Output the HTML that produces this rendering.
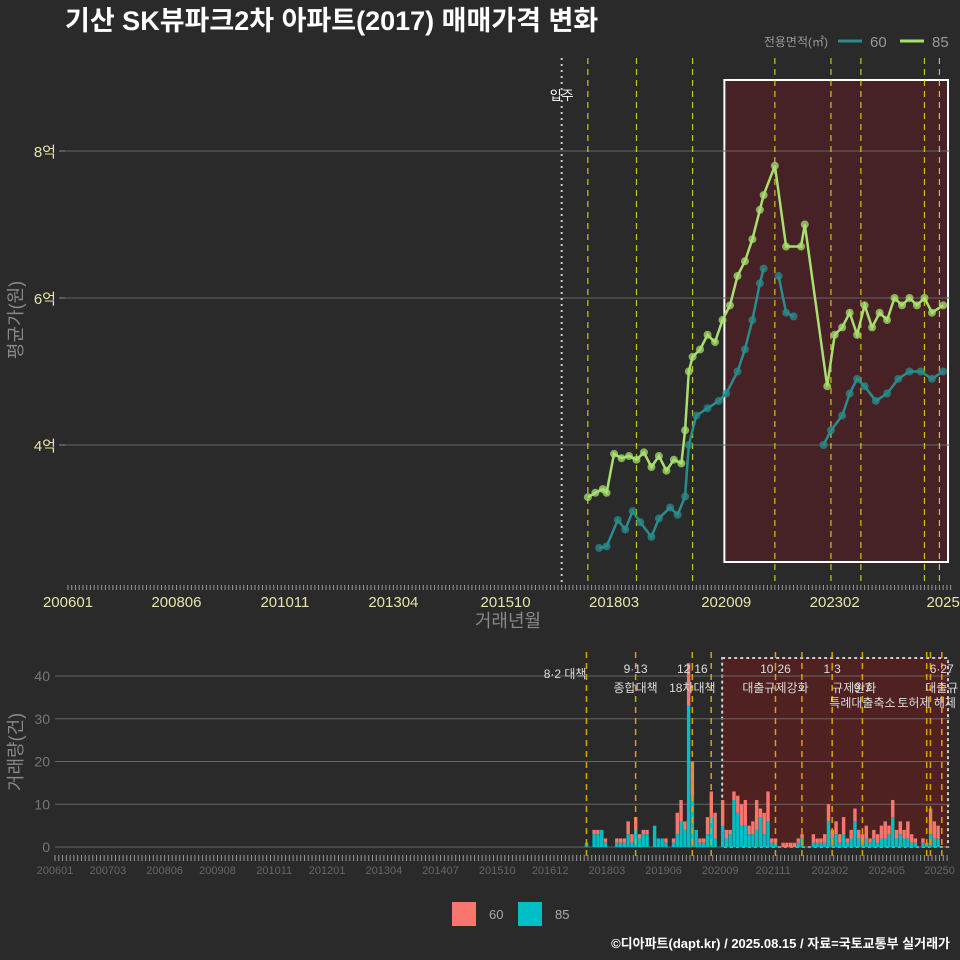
<!DOCTYPE html>
<html><head><meta charset="utf-8">
<style>
body{margin:0;background:#2a2a2b;}
svg{display:block;font-family:"Liberation Sans","Noto Sans CJK KR",sans-serif;}
</style></head>
<body>
<svg id="c" width="960" height="960" viewBox="0 0 960 960">
<rect x="0" y="0" width="960" height="960" fill="#2a2a2b"/>
<text x="65" y="30" fill="#ffffff" font-size="27" font-weight="bold">기산 SK뷰파크2차 아파트(2017) 매매가격 변화</text>
<g>
<text x="828" y="46" fill="#999" font-size="12" text-anchor="end">전용면적(㎡)</text>
<line x1="838" y1="41" x2="862" y2="41" stroke="#2a8c8c" stroke-width="3"/>
<text x="870" y="47" fill="#999" font-size="15">60</text>
<line x1="900" y1="41" x2="924" y2="41" stroke="#a8e070" stroke-width="3"/>
<text x="932" y="47" fill="#999" font-size="15">85</text>
</g>
<g id="topPanel"></g>
<g id="botPanel"></g>
<g>
<rect x="452" y="902" width="24" height="24" fill="#f8766d"/>
<text x="489" y="919" fill="#aaa" font-size="13">60</text>
<rect x="518" y="902" width="24" height="24" fill="#00bfc4"/>
<text x="555" y="919" fill="#aaa" font-size="13">85</text>
</g>
<text x="950" y="948" fill="#ffffff" font-size="13" font-weight="bold" text-anchor="end">©디아파트(dapt.kr) / 2025.08.15 / 자료=국토교통부 실거래가</text>
</svg>
<script>
// ---- data ----
const price85Months=["201708","201710","201712","201801","201803","201805","201807","201809","201811","201901","201903","201905","201907","201909","201910","201911","201912","202002","202004","202006","202008","202010","202012","202102","202104","202106","202107","202110","202201","202205","202206","202212","202302","202304","202306","202308","202310","202312","202402","202404","202406","202408","202410","202412","202502","202504","202507"];
const price85Values=[3.29,3.35,3.40,3.35,3.88,3.82,3.85,3.80,3.90,3.70,3.85,3.65,3.80,3.75,4.2,5.0,5.2,5.3,5.5,5.4,5.7,5.9,6.3,6.5,6.8,7.2,7.4,7.8,6.7,6.7,7.0,4.8,5.5,5.6,5.8,5.5,5.9,5.6,5.8,5.7,6.0,5.9,6.0,5.9,6.0,5.8,5.9];
const price60Months=["201711","201801","201804","201806","201808","201810","201901","201903","201906","201908","201910","201911","202001","202004","202007","202009","202012","202102","202104","202106","202107","202108","202111","202201","202203","202204","202211","202301","202304","202306","202308","202310","202401","202404","202407","202410","202501","202504","202507"];
const price60Values=[2.6,2.62,2.98,2.85,3.1,2.95,2.75,3.0,3.15,3.05,3.3,4.0,4.4,4.5,4.6,4.7,5.0,5.3,5.7,6.2,6.4,null,6.3,5.8,5.75,null,4.0,4.2,4.4,4.7,4.9,4.8,4.6,4.7,4.9,5.0,5.0,4.9,5.0];
const yTicks=[4,6,8];
const yTickLabels=["4억","6억","8억"];
const topXLabels=["200601","200806","201011","201304","201510","201803","202009","202302","2025"];
const topXLabelMonths=["200601","200806","201011","201304","201510","201803","202009","202302","202507"];
const botXLabels=["200601","200703","200806","200908","201011","201201","201304","201407","201510","201612","201803","201906","202009","202111","202302","202405","20250"];
const volStart="201708";
const volTotal=[1,0,4,4,4,2,0,0,2,2,2,6,3,7,3,4,4,0,5,2,2,2,0,2,8,11,6,43,20,4,2,2,7,13,8,0,11,4,4,13,12,10,11,5,6,11,9,8,13,2,2,0,1,1,1,1,2,3,0,0,3,2,2,3,10,4,6,3,7,2,4,9,4,3,5,2,4,3,5,6,5,11,4,6,4,6,3,2,0,2,1,9,6,5];
const vol85=[1,0,3,3,4,1,0,0,1,1,1,3,1,4,2,3,3,0,5,2,2,1,0,1,3,6,4,33,12,4,1,1,3,7,2,0,5,2,3,11,8,5,5,3,3,4,7,3,6,1,1,0,0,0,0,0,1,2,0,0,1,1,1,1,6,2,3,1,3,1,2,6,2,1,2,1,2,1,2,2,3,7,2,3,2,2,1,1,0,1,1,3,2,2];
const volTicks=[0,10,20,30,40];
const topEvents=["201708","201809","201912","202110","202301","202309","202502","202506"];
const botEvents=["201708","201809","201912","202005","202110","202205","202301","202309","202502","202503","202506"];
const moveIn="201701";
const annotations=[["201708","8·2 대책",678,"end"],["201809","9·13",673,"middle"],["201809","종합대책",692,"middle"],["201912","12·16",673,"middle"],["201912","18차대책",692,"middle"],["202110","10·26",673,"middle"],["202110","대출규제강화",692,"middle"],["202301","1·3",673,"middle"],["202301","규제완화",692,"start"],["202309","9·7",692,"middle"],["202309","특례대출축소",707,"middle"],["202502","토허제 해제",707,"middle"],["202506","6·27",673,"middle"],["202506","대출규",692,"middle"]];

// ---- helpers ----
const NS="http://www.w3.org/2000/svg";
function mk(tag,attrs,parent){const el=document.createElementNS(NS,tag);for(const k in attrs)el.setAttribute(k,attrs[k]);parent.appendChild(el);return el;}
function mi(s){return (parseInt(s.slice(0,4))-2006)*12+parseInt(s.slice(4,6))-1;}
const tx=m=>68+m*3.74;
const ty=v=>445-(v-4)*73.5;
const bx=m=>55+m*3.78;
const bxd=m=>bx(m+1.6);
const by=v=>847-v*4.275;
const topG=document.getElementById('topPanel'), botG=document.getElementById('botPanel');

// ---- top panel ----
let e;
e=mk('rect',{x:tx(175.5),y:80,width:tx(235.3)-tx(175.5),height:482,fill:'rgba(110,25,30,0.42)',stroke:'#ffffff','stroke-width':2},topG);


yTicks.forEach((t,i)=>{
 e=mk('line',{x1:65,x2:950,y1:ty(t),y2:ty(t),stroke:'#666','stroke-width':1},topG);
 
 
 e=mk('text',{x:56,y:ty(t)+6,fill:'#e8e4a8','font-size':15,'text-anchor':'end'},topG);e.textContent=yTickLabels[i];
 
 
 e=mk('line',{x1:59,x2:65,y1:ty(t),y2:ty(t),stroke:'#888'},topG);
 
 
});
for(let m=0;m<=236;m++){e=mk('line',{x1:tx(m),x2:tx(m),y1:585,y2:590,stroke:'#999','stroke-width':1},topG);
 
 }
topXLabels.forEach((l,i)=>{e=mk('text',{x:tx(mi(topXLabelMonths[i])),y:607,fill:'#e8e4a8','font-size':15,'text-anchor':'middle'},topG);e.textContent=l;
 
 });
e=mk('text',{x:508,y:627,fill:'#888','font-size':18,'text-anchor':'middle'},topG);e.textContent='거래년월';


e=mk('text',{x:0,y:0,fill:'#888','font-size':18,'text-anchor':'middle',transform:'translate(22,320) rotate(-90)'},topG);e.textContent='평균가(원)';


e=mk('line',{x1:tx(mi(moveIn)),x2:tx(mi(moveIn)),y1:58,y2:585,stroke:'#ccc','stroke-dasharray':'2,4','stroke-width':2},topG);


e=mk('text',{x:tx(mi(moveIn)),y:100,fill:'#fff','font-size':13,'text-anchor':'middle'},topG);e.textContent='입주';


topEvents.forEach(m=>{e=mk('line',{x1:tx(mi(m)),x2:tx(mi(m)),y1:58,y2:585,stroke:'#e6e020','stroke-dasharray':'6,5','stroke-width':1.2,opacity:0.85},topG);
 
 });
function series(months,vals,color,name){
 let d='',pen=false;
 months.forEach((m,i)=>{if(vals[i]==null){pen=false;return;}d+=(pen?'L':'M')+tx(mi(m)).toFixed(1)+','+ty(vals[i]).toFixed(1);pen=true;});
 e=mk('path',{d:d,fill:'none',stroke:color,'stroke-width':2.5},topG);
 
 
 months.forEach((m,i)=>{if(vals[i]==null)return;
  e=mk('circle',{cx:tx(mi(m)),cy:ty(vals[i]),r:4,fill:color,opacity:0.75},topG);
  
  });
}
series(price60Months,price60Values,'#2a8c8c','60');
series(price85Months,price85Values,'#a8e070','85');

// ---- bottom panel ----
e=mk('rect',{x:bx(176.5),y:658,width:948-bx(176.5),height:189,fill:'rgba(110,25,25,0.55)',stroke:'#ccc','stroke-dasharray':'3,3','stroke-width':2},botG);


volTicks.forEach(t=>{
 e=mk('line',{x1:55,x2:950,y1:by(t),y2:by(t),stroke:'#666'},botG);
 
 
 e=mk('text',{x:50,y:by(t)+5,fill:'#777','font-size':14,'text-anchor':'end'},botG);e.textContent=t;
 
 
});
e=mk('text',{x:0,y:0,fill:'#888','font-size':18,'text-anchor':'middle',transform:'translate(22,752) rotate(-90)'},botG);e.textContent='거래량(건)';


for(let m=0;m<=236;m++){e=mk('line',{x1:bx(m),x2:bx(m),y1:855,y2:861,stroke:'#999'},botG);
 
 }
botXLabels.forEach(l=>{const m=l.length===6?mi(l):234;e=mk('text',{x:bx(m),y:874,fill:'#666','font-size':11,'text-anchor':'middle'},botG);e.textContent=l;
 
 });
const s0=mi(volStart);
volTotal.forEach((t,i)=>{const m=s0+i,x=bxd(m)-1.6,w=3.4,t85=vol85[i],t60=t-t85;
 if(t85>0){e=mk('rect',{x:x,y:by(t85),width:w,height:by(0)-by(t85),fill:'#00bfc4'},botG);
  
  }
 if(t60>0){e=mk('rect',{x:x,y:by(t),width:w,height:by(t85)-by(t),fill:'#f8766d'},botG);
  
  }
});
botEvents.forEach(m=>{e=mk('line',{x1:bxd(mi(m)),x2:bxd(mi(m)),y1:652,y2:858,stroke:'#e0a000','stroke-dasharray':'6,5','stroke-width':1.5},botG);
 
 });
annotations.forEach(a=>{e=mk('text',{x:bxd(mi(a[0])),y:a[2],fill:'#ddd','font-size':12,'text-anchor':a[3]},botG);e.textContent=a[1];
 
 });
</script>
</body></html>
